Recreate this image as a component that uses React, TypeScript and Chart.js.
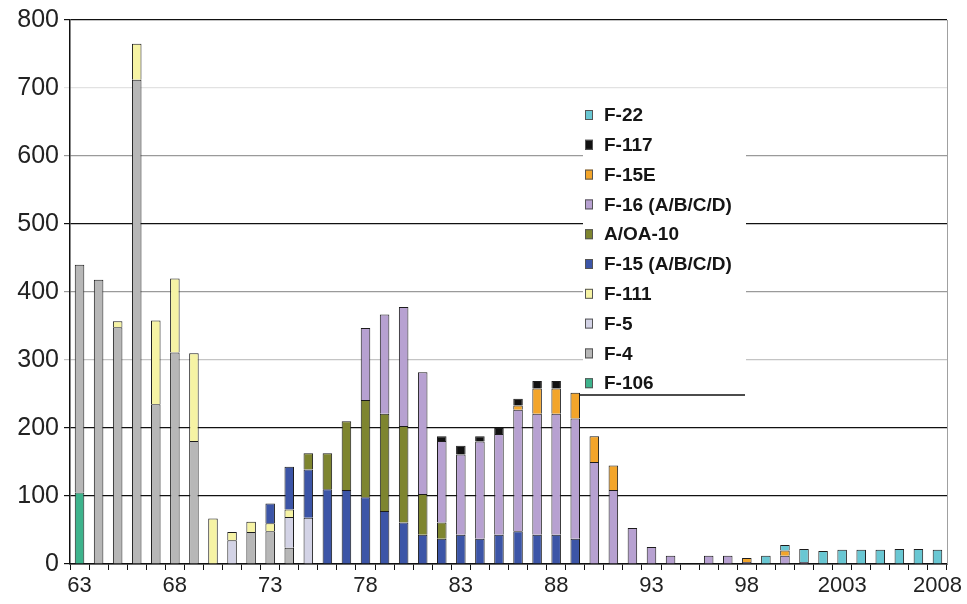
import { useEffect, useRef } from 'react';
import { Chart, registerables } from 'chart.js';

Chart.register(...registerables);

// Categories: fiscal years 1963..2008
const years = [
  1963, 1964, 1965, 1966, 1967, 1968, 1969, 1970, 1971, 1972,
  1973, 1974, 1975, 1976, 1977, 1978, 1979, 1980, 1981, 1982,
  1983, 1984, 1985, 1986, 1987, 1988, 1989, 1990, 1991, 1992,
  1993, 1994, 1995, 1996, 1997, 1998, 1999, 2000, 2001, 2002,
  2003, 2004, 2005, 2006, 2007, 2008,
];

// x tick labels shown every fifth year
const xTickYears = [1963, 1968, 1973, 1978, 1983, 1988, 1993, 1998, 2003, 2008];
const xTickLabels = ['63', '68', '73', '78', '83', '88', '93', '98', '2003', '2008'];

const yTicks = [0, 100, 200, 300, 400, 500, 600, 700, 800];

// Series (aircraft delivered per year), bottom of stack first
const f106 = [
  105, 0, 0, 0, 0, 0, 0, 0, 0, 0,
  0, 0, 0, 0, 0, 0, 0, 0, 0, 0,
  0, 0, 0, 0, 0, 0, 0, 0, 0, 0,
  0, 0, 0, 0, 0, 0, 0, 0, 0, 0,
  0, 0, 0, 0, 0, 0,
];
const f4 = [
  335, 418, 348, 712, 235, 311, 181, 0, 0, 47,
  48, 24, 0, 0, 0, 0, 0, 0, 0, 0,
  0, 0, 0, 0, 0, 0, 0, 0, 0, 0,
  0, 0, 0, 0, 0, 0, 0, 0, 0, 0,
  0, 0, 0, 0, 0, 0,
];
const f5 = [
  0, 0, 0, 0, 0, 0, 0, 0, 35, 0,
  0, 45, 68, 0, 0, 0, 0, 0, 0, 0,
  0, 0, 0, 0, 0, 0, 0, 0, 0, 0,
  0, 0, 0, 0, 0, 0, 0, 0, 0, 0,
  0, 0, 0, 0, 0, 0,
];
const f111 = [
  0, 0, 9, 53, 123, 109, 129, 67, 12, 15,
  12, 11, 0, 0, 0, 0, 0, 0, 0, 0,
  0, 0, 0, 0, 0, 0, 0, 0, 0, 0,
  0, 0, 0, 0, 0, 0, 0, 0, 0, 0,
  0, 0, 0, 0, 0, 0,
];
const f15 = [
  0, 0, 0, 0, 0, 0, 0, 0, 0, 0,
  29, 63, 71, 110, 109, 98, 78, 61, 43, 37,
  43, 37, 43, 48, 43, 43, 37, 0, 0, 0,
  0, 0, 0, 0, 0, 0, 0, 0, 0, 0,
  0, 0, 0, 0, 0, 0,
];
const a10 = [
  0, 0, 0, 0, 0, 0, 0, 0, 0, 0,
  0, 0, 24, 53, 101, 143, 143, 142, 60, 24,
  0, 0, 0, 0, 0, 0, 0, 0, 0, 0,
  0, 0, 0, 0, 0, 0, 0, 0, 0, 0,
  0, 0, 0, 0, 0, 0,
];
const f16 = [
  0, 0, 0, 0, 0, 0, 0, 0, 0, 0,
  0, 0, 0, 0, 0, 106, 146, 175, 179, 120,
  118, 143, 148, 179, 178, 178, 177, 150, 109, 53,
  25, 12, 0, 12, 12, 3, 0, 12, 3, 0,
  0, 0, 0, 0, 0, 0,
];
const f15e = [
  0, 0, 0, 0, 0, 0, 0, 0, 0, 0,
  0, 0, 0, 0, 0, 0, 0, 0, 0, 0,
  0, 0, 0, 6, 37, 37, 38, 38, 36, 0,
  0, 0, 0, 0, 0, 6, 0, 8, 0, 0,
  0, 0, 0, 0, 0, 0,
];
const f117 = [
  0, 0, 0, 0, 0, 0, 0, 0, 0, 0,
  0, 0, 0, 0, 0, 0, 0, 0, 0, 7,
  13, 8, 9, 10, 11, 11, 0, 0, 0, 0,
  0, 0, 0, 0, 0, 0, 0, 0, 0, 0,
  0, 0, 0, 0, 0, 0,
];
const f22 = [
  0, 0, 0, 0, 0, 0, 0, 0, 0, 0,
  0, 0, 0, 0, 0, 0, 0, 0, 0, 0,
  0, 0, 0, 0, 0, 0, 0, 0, 0, 0,
  0, 0, 0, 0, 0, 0, 12, 8, 19, 19,
  21, 21, 21, 22, 22, 21,
];

const seriesNames = ['F-106', 'F-4', 'F-5', 'F-111', 'F-15 (A/B/C/D)', 'A/OA-10', 'F-16 (A/B/C/D)', 'F-15E', 'F-117', 'F-22'];
const seriesValues = [f106, f4, f5, f111, f15, a10, f16, f15e, f117, f22];
const seriesColors = ['#3db38c', '#b7b7b7', '#d3d3e6', '#f6f3a4', '#3c55a7', '#7e852f', '#b7a1d1', '#f3a52a', '#111111', '#69c7d3'];

const FONT = "'Liberation Sans', Arial, sans-serif";

const gridColorFor = (v: number) => {
  if (v === 0 || v === 100 || v === 200 || v === 500 || v === 800) return '#111111';
  if (v === 700) return '#e2e2e2';
  if (v === 300) return '#c4c4c4';
  return '#9a9a9a';
};

const legendPlugin = {
  id: 'insideLegend',
  beforeDatasetsDraw(chart: any) {
    const ctx = chart.ctx;
    const area = chart.chartArea;
    ctx.save();
    ctx.fillStyle = '#ffffff';
    ctx.fillRect(583, 100, 163, 295);
    ctx.strokeStyle = '#111111';
    ctx.lineWidth = 1.5;
    ctx.beginPath();
    ctx.moveTo(580, 395);
    ctx.lineTo(745, 395);
    ctx.stroke();
    const ds = chart.data.datasets.slice().reverse();
    ds.forEach((d: any, i: number) => {
      const y = 115 + i * 29.8;
      ctx.fillStyle = d.backgroundColor;
      ctx.fillRect(585, y - 5, 8, 10);
      ctx.strokeStyle = '#555';
      ctx.lineWidth = 1;
      ctx.strokeRect(585.5, y - 4.5, 7, 9);
      ctx.fillStyle = '#151515';
      ctx.font = `bold 19px ${FONT}`;
      ctx.textBaseline = 'middle';
      ctx.textAlign = 'left';
      ctx.fillText(d.label, 604, y + 1);
    });
    // right border of plot area
    ctx.strokeStyle = '#a0a0a0';
    ctx.lineWidth = 1;
    ctx.beginPath();
    ctx.moveTo(area.right + 0.5, area.top);
    ctx.lineTo(area.right + 0.5, area.bottom);
    ctx.stroke();
    ctx.restore();
  },
};

export default function App() {
  const ref = useRef<HTMLCanvasElement | null>(null);

  useEffect(() => {
    if (!ref.current) return;
    const chart = new Chart(ref.current, {
      type: 'bar',
      data: {
        labels: years.map(String),
        datasets: seriesNames.map((name, i) => ({
          label: name,
          data: seriesValues[i].map((v) => (v === 0 ? null : v)),
          backgroundColor: seriesColors[i],
          borderColor: '#1c1c1c',
          borderWidth: 1,
          barPercentage: 0.5,
          categoryPercentage: 1,
        })),
      },
      options: {
        animation: false,
        responsive: true,
        maintainAspectRatio: false,
        layout: { padding: { top: 19, right: 20, left: 0, bottom: 0 } },
        plugins: {
          legend: { display: false },
          tooltip: { enabled: false },
        },
        scales: {
          x: {
            stacked: true,
            offset: true,
            grid: {
              offset: true,
              drawOnChartArea: false,
              drawTicks: true,
              tickLength: 6,
              color: '#111111',
            },
            border: { display: true, color: '#111111', width: 1.5 },
            ticks: {
              autoSkip: false,
              maxRotation: 0,
              padding: 3,
              color: '#222',
              font: { family: FONT, size: 22 },
              callback: (_v: any, idx: number) => {
                const k = xTickYears.indexOf(years[idx]);
                return k >= 0 ? xTickLabels[k] : '';
              },
            },
            afterFit: (scale: any) => {
              scale.height = 40;
            },
          },
          y: {
            stacked: true,
            min: yTicks[0],
            max: yTicks[yTicks.length - 1],
            afterBuildTicks: (scale: any) => {
              scale.ticks = yTicks.map((v) => ({ value: v }));
            },
            grid: {
              color: (c: any) => gridColorFor(c.tick ? c.tick.value : 0),
              lineWidth: 1.2,
              tickLength: 6,
            },
            border: { display: true, color: '#111111', width: 1.5 },
            ticks: {
              padding: 5,
              color: '#222',
              font: { family: FONT, size: 25 },
            },
            afterFit: (scale: any) => {
              scale.width = 70;
            },
          },
        },
      },
      plugins: [legendPlugin],
    });
    return () => chart.destroy();
  }, []);

  return (
    <div style={{ position: 'fixed', left: 0, top: 0, width: 967, height: 604, background: '#fff' }}>
      <canvas ref={ref} />
    </div>
  );
}
